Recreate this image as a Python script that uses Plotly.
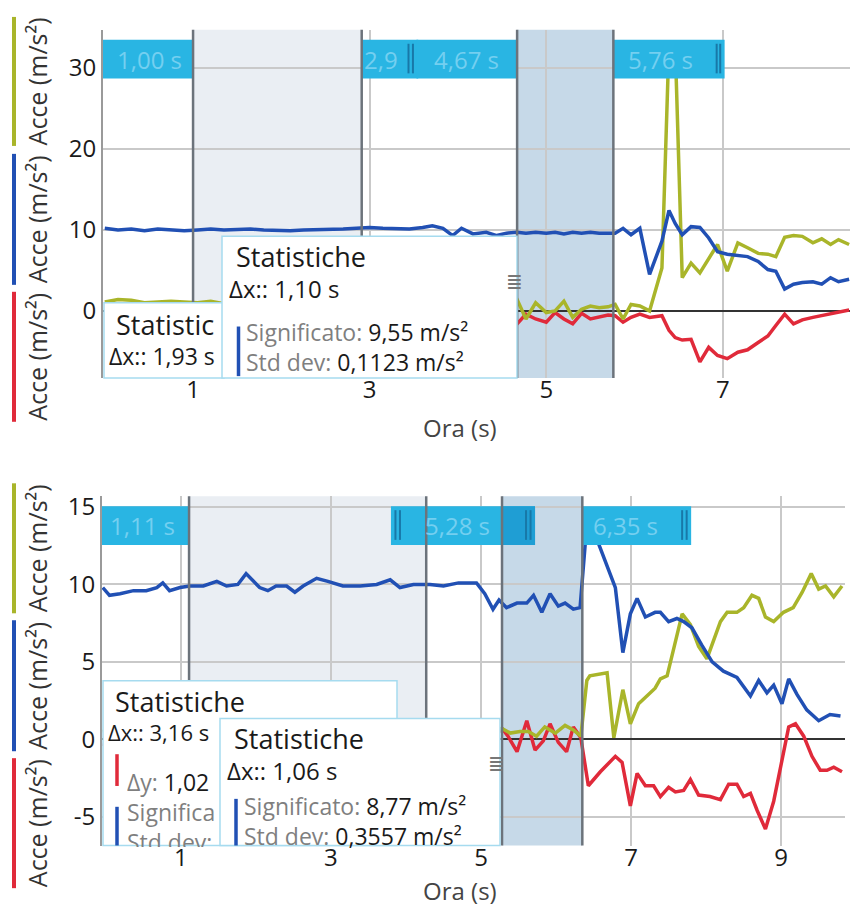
import plotly.graph_objects as go

# ---------------- data ----------------
# top panel
top_time = [0.0, 0.15, 0.3, 0.45, 0.6, 0.75, 0.9, 1.05, 1.2, 1.35, 1.5, 1.65, 1.8, 1.95, 2.1, 2.25,
            2.4, 2.55, 2.7, 2.85, 3.0, 3.15, 3.3, 3.45, 3.6, 3.71, 3.83, 3.94, 4.04, 4.17, 4.32, 4.44, 4.55,
            4.67, 4.77, 4.88, 5.00, 5.10, 5.20, 5.30, 5.40, 5.50, 5.60, 5.70, 5.78, 5.87, 5.96, 6.06, 6.17,
            6.31, 6.39, 6.46, 6.54, 6.64, 6.74, 6.84, 6.94, 7.05, 7.17, 7.28, 7.40, 7.51, 7.60, 7.70, 7.80,
            7.90, 8.02, 8.12, 8.22, 8.31, 8.43]
top_blue = [10.2, 10.0, 10.1, 9.9, 10.1, 10.0, 9.9, 10.0, 10.1, 10.0, 10.1, 10.1, 10.0, 9.9, 9.9, 10.0,
            10.0, 10.1, 10.1, 10.2, 10.3, 10.2, 10.2, 10.1, 10.3, 10.5, 10.2, 9.3, 10.2, 9.5, 9.7, 9.3, 9.6,
            9.7, 9.6, 9.7, 9.6, 9.7, 9.5, 9.7, 9.6, 9.7, 9.6, 9.6, 9.6, 10.2, 9.4, 10.2, 4.5,
            8.6, 12.4, 10.8, 9.4, 10.4, 10.3, 9.0, 7.3, 7.0, 6.9, 6.7, 6.1, 5.1, 4.9, 2.7, 3.3,
            3.5, 3.6, 3.3, 4.1, 3.6, 3.9]
top_yellow = [1.1, 1.4, 1.3, 1.0, 1.1, 1.2, 1.1, 1.0, 1.2, 0.9, 0.8, 1.0, 0.6, 0.9, 1.1, 0.7,
              0.9, 1.0, 0.8, 1.2, 0.9, 0.7, 1.0, 0.8, 1.1, 0.6, 0.9, 1.0, 0.8, 0.7, 1.1, 0.9, 1.3,
              1.4, -1.0, 1.0, -0.2, 0.0, 1.2, -0.8, 0.2, 0.6, 0.4, 0.5, 0.8, -1.0, 0.8, 0.6, 0.0,
              5.3, 33.0, 33.0, 4.1, 5.9, 4.7, 6.5, 8.2, 4.9, 8.4, 7.8, 7.1, 7.0, 6.7, 9.1, 9.3,
              9.2, 8.4, 8.9, 8.2, 8.8, 8.2]
top_red = [-0.8, -1.0, -0.6, -0.9, -0.7, -1.1, -0.8, -0.6, -0.9, -1.0, -0.7, -0.8, -1.2, -0.6, -0.9, -0.8,
           -1.0, -0.7, -0.9, -0.6, -0.8, -1.1, -0.7, -0.9, -0.8, -1.0, -0.6, -0.9, -0.8, -1.2, -0.7, -0.9, -1.0,
           -1.6, -0.4, -1.0, -1.4, -0.2, -1.0, -1.6, -0.3, -1.0, -0.7, -0.5, -0.6, -1.4, -0.8, -0.4, -0.8,
           -0.6, -2.4, -3.3, -3.6, -3.5, -6.3, -4.5, -5.5, -5.9, -5.1, -4.8, -3.9, -3.1, -1.8, -0.4, -1.6,
           -1.1, -0.8, -0.6, -0.4, -0.2, 0.1]

# bottom panel
bot_blue_time = [-0.04, 0.05, 0.19, 0.37, 0.54, 0.68, 0.76, 0.85, 0.99, 1.12, 1.30, 1.48, 1.61, 1.76, 1.87,
                 2.05, 2.16, 2.27, 2.41, 2.52, 2.63, 2.81, 2.96, 3.16, 3.39, 3.61, 3.79, 3.92, 4.10, 4.32,
                 4.50, 4.70, 4.94, 5.05, 5.16, 5.24, 5.34, 5.48, 5.61, 5.70, 5.81, 5.92, 6.03, 6.12, 6.23,
                 6.32, 6.42, 6.59, 6.70, 6.79, 6.89, 6.99, 7.08, 7.19, 7.32, 7.39, 7.50, 7.61, 7.70, 7.81,
                 7.94, 8.08, 8.23, 8.41, 8.59, 8.70, 8.81, 8.90, 9.01, 9.10, 9.21, 9.34, 9.50, 9.65, 9.79]
bot_blue = [9.8, 9.3, 9.4, 9.6, 9.6, 9.8, 10.1, 9.6, 9.8, 9.9, 9.9, 10.2, 9.9, 10.0, 10.7,
            9.8, 9.6, 9.9, 9.9, 9.5, 9.9, 10.4, 10.2, 9.9, 9.9, 10.0, 10.3, 9.8, 10.0, 10.0,
            9.9, 10.1, 10.1, 9.4, 8.4, 9.0, 8.5, 8.8, 8.8, 9.3, 8.2, 9.4, 8.6, 8.8, 8.4,
            8.5, 14.5, 12.4, 11.0, 9.8, 5.6, 8.1, 9.1, 7.9, 8.2, 8.2, 7.6, 7.8, 7.6, 7.2,
            6.1, 5.0, 4.4, 4.0, 2.8, 3.8, 3.0, 3.5, 2.3, 3.9, 2.9, 1.9, 1.2, 1.6, 1.5]
bot_yellow_time = [-0.04, 0.3, 0.7, 1.1, 1.5, 1.9, 2.3, 2.7, 3.1, 3.5, 3.9, 4.3, 4.7, 5.1,
                   5.28, 5.39, 5.52, 5.63, 5.74, 5.85, 5.99, 6.12, 6.23, 6.33, 6.41, 6.45, 6.68, 6.77,
                   6.89, 6.99, 7.10, 7.21, 7.32, 7.39, 7.48, 7.68, 7.79, 7.90, 8.01, 8.19, 8.28, 8.41,
                   8.50, 8.61, 8.70, 8.79, 8.90, 9.03, 9.16, 9.28, 9.40, 9.50, 9.59, 9.70, 9.81]
bot_yellow = [0.5, 0.7, 0.3, 0.6, 0.4, 0.8, 0.5, 0.3, 0.6, 0.7, 0.4, 0.6, 0.5, 0.6,
              0.7, 0.4, 0.5, 0.5, 0.2, 0.8, 0.4, 0.9, 0.6, 0.2, 3.8, 4.1, 4.3, 0.1,
              3.2, 1.0, 2.3, 2.8, 3.3, 3.9, 4.1, 8.1, 7.4, 6.0, 5.2, 7.6, 8.2, 8.2,
              8.5, 9.3, 9.1, 7.9, 7.6, 8.2, 8.5, 9.5, 10.7, 9.7, 9.9, 9.2, 9.9]
bot_red_time = [-0.04, 0.3, 0.7, 1.1, 1.5, 1.9, 2.3, 2.7, 3.1, 3.5, 3.9, 4.3, 4.7, 5.1,
                5.28, 5.36, 5.48, 5.61, 5.72, 5.83, 5.92, 6.03, 6.14, 6.23, 6.33, 6.43, 6.59, 6.79,
                6.88, 6.99, 7.08, 7.19, 7.30, 7.39, 7.50, 7.59, 7.70, 7.79, 7.90, 8.05, 8.19, 8.30,
                8.41, 8.50, 8.59, 8.68, 8.79, 8.90, 9.01, 9.10, 9.19, 9.30, 9.41, 9.52, 9.61, 9.70, 9.81]
bot_red = [-0.3, -0.5, -0.2, -0.4, -0.6, -0.3, -0.5, -0.2, -0.4, -0.3, -0.6, -0.4, -0.2, -0.3,
           0.7, 0.2, -0.8, 1.2, -0.7, -0.1, 1.0, -0.2, -0.8, 0.8, 0.1, -3.0, -2.1, -1.1,
           -1.5, -4.3, -2.2, -3.0, -3.0, -3.7, -3.1, -3.4, -3.3, -2.6, -3.6, -3.7, -3.9, -2.9,
           -2.9, -3.7, -3.5, -4.6, -5.8, -4.0, -1.4, 0.8, 1.0, 0.2, -1.1, -2.0, -2.0, -1.8, -2.1]

top_cursors = [1.00, 2.91, 4.67, 5.76]
bot_cursors = [1.11, 4.27, 5.28, 6.35]
top_xticks = [1, 3, 5, 7]
bot_xticks = [1, 3, 5, 7, 9]
top_yticks = [0, 10, 20, 30]
bot_yticks = [-5, 0, 5, 10, 15]
bot_yticklabels = ["-5", "0", "5", "10", "15"]
y_title = "Acce (m/s²)"

# ---------------- styling ----------------
W, H = 852, 910
FONT = "Open Sans"
C_BLUE = "#2150b4"
C_YEL = "#a9b52a"
C_RED = "#e02a3a"
C_LBOX = "#29b5e3"
C_LTXT = "#74cff0"
C_GRIP = "#1878a8"
C_CURS = "#6c737b"
C_BORDER = "#a6dbef"
G = "#7f7f7f"


def px(x):
    return x / W


def py(y):
    return 1 - y / H


fig = go.Figure()
for xs, ys, c in [(top_time, top_red, C_RED), (top_time, top_yellow, C_YEL), (top_time, top_blue, C_BLUE)]:
    fig.add_trace(go.Scatter(x=xs, y=ys, mode="lines", line=dict(color=c, width=3.5),
                             xaxis="x", yaxis="y", showlegend=False, hoverinfo="skip"))
for xs, ys, c in [(bot_red_time, bot_red, C_RED), (bot_yellow_time, bot_yellow, C_YEL),
                  (bot_blue_time, bot_blue, C_BLUE)]:
    fig.add_trace(go.Scatter(x=xs, y=ys, mode="lines", line=dict(color=c, width=3.5),
                             xaxis="x2", yaxis="y2", showlegend=False, hoverinfo="skip"))

shapes = []
annots = []


def vrect(xr, yr, x0, x1, color, layer="below", y0=0, y1=1):
    shapes.append(dict(type="rect", xref=xr, yref=yr + " domain", x0=x0, x1=x1, y0=y0, y1=y1,
                       fillcolor=color, line=dict(width=0), layer=layer))


def prect(x0, y0, x1, y1, fill="white", border=C_BORDER):
    shapes.append(dict(type="rect", xref="paper", yref="paper", x0=px(x0), x1=px(x1), y0=py(y1), y1=py(y0),
                       fillcolor=fill, line=dict(color=border, width=1.5), layer="above"))


def pline(x0, y0, x1, y1, color, width):
    shapes.append(dict(type="line", xref="paper", yref="paper", x0=px(x0), x1=px(x1), y0=py(y0), y1=py(y1),
                       line=dict(color=color, width=width), layer="above"))


def ptext(x, y, text, size, color="#1a1a1a", xanchor="left", angle=0, h=None, yanchor="middle"):
    a = dict(xref="paper", yref="paper", x=px(x), y=py(y), text=text, showarrow=False,
             xanchor=xanchor, yanchor=yanchor, textangle=angle, borderpad=0, align="left",
             font=dict(family=FONT, size=size, color=color))
    if h is not None:
        a["height"] = h
        a["valign"] = "top"
    annots.append(a)


def big(t):
    return f"<span style='font-size:27px'>{t}</span>"


def grey(t):
    return f"<span style='color:{G}'>{t}</span>"


# shaded cursor regions
for xr, yr, cur in [("x", "y", top_cursors), ("x2", "y2", bot_cursors)]:
    vrect(xr, yr, cur[0], cur[1], "#eaeef3")
    vrect(xr, yr, cur[2], cur[3], "#c6d9e8")

# cursor label boxes (band at top of each panel)
LB0, LB1 = 0.860, 0.9715
label_boxes = [
    ("x", "y", -0.02, top_cursors[0], "1,00 s", 0.51),
    ("x", "y", top_cursors[1], 3.55, "2,9", 3.13),
    ("x", "y", 3.53, top_cursors[2], "4,67 s", 4.10),
    ("x", "y", top_cursors[3], 7.02, "5,76 s", 6.29),
    ("x2", "y2", -0.05, bot_cursors[0], "1,11 s", 0.49),
    ("x2", "y2", 3.80, 5.72, "5,28 s", 4.69),
    ("x2", "y2", bot_cursors[3], 7.80, "6,35 s", 6.92),
]
for xr, yr, x0, x1, txt, xc in label_boxes:
    vrect(xr, yr, x0, x1, C_LBOX, layer="above", y0=LB0, y1=LB1)
vrect("x2", "y2", bot_cursors[2], 5.72, "#1f9ed4", layer="above", y0=LB0, y1=LB1)
for xr, gx in [("x", 3.44), ("x", 3.49), ("x", 6.93), ("x", 6.97),
               ("x2", 3.86), ("x2", 3.92), ("x2", 5.60), ("x2", 5.66), ("x2", 7.68), ("x2", 7.74)]:
    yr = "y" if xr == "x" else "y2"
    shapes.append(dict(type="line", xref=xr, yref=yr + " domain", x0=gx, x1=gx, y0=0.875, y1=0.96,
                       line=dict(color=C_GRIP, width=2), layer="above"))
for xr, yr, x0, x1, txt, xc in label_boxes:
    annots.append(dict(xref=xr, yref=yr + " domain", x=xc, y=(LB0 + LB1) / 2, text=txt, showarrow=False,
                       xanchor="center", yanchor="middle", font=dict(family=FONT, size=24, color=C_LTXT)))

# cursor lines
for xr, yr, cur in [("x", "y", top_cursors), ("x2", "y2", bot_cursors)]:
    for c in cur:
        shapes.append(dict(type="line", xref=xr, yref=yr + " domain", x0=c, x1=c, y0=0, y1=1,
                           line=dict(color=C_CURS, width=2.5), layer="above"))

# statistics boxes -- top panel
prect(104, 298, 224, 374)
prect(222, 231, 517, 374)
pline(238.5, 322, 238.5, 372, C_BLUE, 3.5)
ptext(108, 335, big("&nbsp;Statistic") + "<br>Δx:: 1,93 s", 23)
ptext(228, 267, big("&nbsp;Statistiche") + "<br>Δx:: 1,10 s", 24)
ptext(245, 343, grey("Significato:") + " 9,55 m/s²<br>" + grey("Std dev:") + " 0,1123 m/s²", 23)
ptext(505, 277, "≣", 20, color="#777")
# statistics boxes -- bottom panel
prect(103, 679, 397, 845)
pline(117, 753, 117, 785, C_RED, 3.5)
pline(117, 806, 117, 845, C_BLUE, 3.5)
ptext(107, 713, big("&nbsp;Statistiche") + "<br>Δx:: 3,16 s", 22)
ptext(126, 764, grey("Δy:") + " 1,02<br>" + grey("Significa") + "<br>" + grey("Std dev:"), 23, h=81,
      yanchor="top")
prect(220, 717, 500, 845)
pline(236, 798, 236, 845, C_BLUE, 3.5)
ptext(226, 752, big("&nbsp;Statistiche") + "<br>Δx:: 1,06 s", 24)
ptext(243, 820, grey("Significato:") + " 8,77 m/s²<br>" + grey("Std dev:") + " 0,3557 m/s²", 23)
ptext(487, 762, "≣", 20, color="#777")

# y-axis titles with colored bars
for (y0, y1, c) in [(10, 140, C_YEL), (148, 280, C_BLUE), (287, 418, C_RED),
                    (480, 611, C_YEL), (618, 750, C_BLUE), (757, 888, C_RED)]:
    pline(14, y0, 14, y1, c, 4)
    ptext(37, (y0 + y1) / 2, y_title, 25, color="#333", xanchor="center", angle=-90)

# x-axis titles
ptext(460, 424, "Ora (s)", 24, color="#444", xanchor="center")
ptext(460, 890, "Ora (s)", 24, color="#444", xanchor="center")

SHIFT = 5  # px: tick labels sit a little closer to the plot edge
grid = dict(showgrid=True, gridcolor="#c9c9c9", gridwidth=1.5, ticks="",
            tickfont=dict(family=FONT, size=24, color="#1a1a1a"))
fig.update_layout(
    width=W, height=H,
    margin=dict(l=0, r=0, t=0, b=0),
    paper_bgcolor="white", plot_bgcolor="white",
    font=dict(family=FONT),
    showlegend=False,
    xaxis=dict(domain=[px(103), px(850)], range=[-0.02, 8.44], anchor="free", position=py(374 - SHIFT),
               tickmode="array", tickvals=top_xticks, zeroline=False, showline=False, **grid),
    yaxis=dict(domain=[py(374), py(23)], range=[-8.3, 34.7], anchor="x",
               tickmode="array", tickvals=top_yticks, zeroline=True, zerolinecolor="#333",
               zerolinewidth=1.5, showline=True, linecolor="#9a9a9a", linewidth=2, **grid),
    xaxis2=dict(domain=[px(102), px(845)], range=[-0.05, 9.85], anchor="free", position=py(845 - SHIFT),
                tickmode="array", tickvals=bot_xticks, zeroline=False, showline=False, **grid),
    yaxis2=dict(domain=[py(845), py(493)], range=[-6.86, 15.7], anchor="x2",
                tickmode="array", tickvals=bot_yticks, ticktext=bot_yticklabels, zeroline=True,
                zerolinecolor="#333", zerolinewidth=1.5, showline=True, linecolor="#9a9a9a",
                linewidth=2, **grid),
    shapes=shapes,
    annotations=annots,
)

fig.write_html("out.html", config={"displayModeBar": False},
               post_script="document.body.style.margin='0px';document.body.style.padding='0px';")
